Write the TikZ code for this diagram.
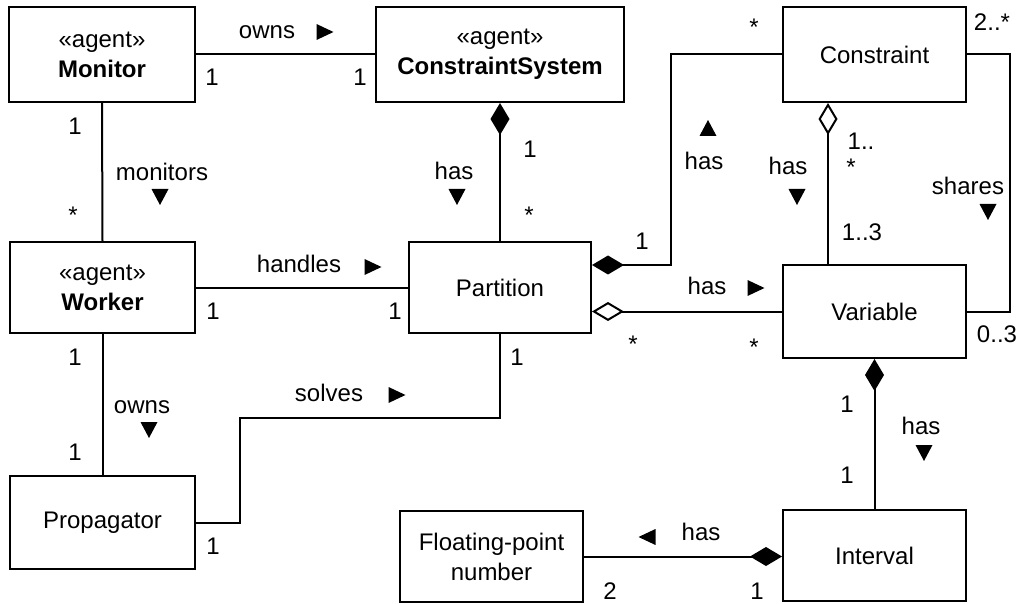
\documentclass[tikz,border=0pt]{standalone}
\usepackage{fontspec}
\setmainfont{Liberation Sans}
\usetikzlibrary{arrows.meta}
\begin{document}
\begin{tikzpicture}[x=1pt,y=-1pt,
  txt/.style={font=\fontsize{24}{30}\selectfont},
  box/.style={txt, draw, line width=2pt, minimum width=183pt, minimum height=93pt,
              inner sep=0pt, align=center},
  lbl/.style={txt, inner sep=0pt},
  link/.style={line width=2pt},
  comp/.style={-{Diamond[length=32pt,width=19pt]}},
  aggr/.style={-{Diamond[open,length=32pt,width=19pt]}},
  trir/.pic={\fill (-8.5,-8) -- (8.5,0) -- (-8.5,8) -- cycle;},
  tril/.pic={\fill (8.5,-8) -- (-8.5,0) -- (8.5,8) -- cycle;},
  trid/.pic={\fill (-8.5,-8) -- (8.5,-8) -- (0,8) -- cycle;},
  triu/.pic={\fill (-8.5,8) -- (8.5,8) -- (0,-8) -- cycle;}]
\useasboundingbox (0,0) rectangle (1031,604);

% classes
\node[box, minimum width=186pt, minimum height=95pt] (monitor) at (102,54.5) {«agent»\\\textbf{Monitor}};
\node[box, minimum width=248pt, minimum height=95pt] (csys) at (500,54.5) {«agent»\\\textbf{ConstraintSystem}};
\node[box, minimum height=95pt] (constraint) at (874.5,54.5) {Constraint};
\node[box, minimum width=185pt, minimum height=91pt] (worker) at (102.5,287.5) {«agent»\\\textbf{Worker}};
\node[box, minimum width=182pt, minimum height=91pt] (partition) at (500,287.5) {Partition};
\node[box] (variable) at (874.5,311.5) {Variable};
\node[box, minimum width=185pt] (propagator) at (102.5,522.5) {Propagator};
\node[box, minimum height=91pt] (fpn) at (491.5,556.5) {Floating-point\\number};
\node[box, minimum height=91pt] (interval) at (874.5,555.5) {Interval};

% bend points
\coordinate (solvesbend) at (240,418);
\coordinate (cpbend) at (671,265);
\coordinate (sharesbend) at (1010,54.5);

% associations
\draw[link] (monitor) -- (csys);
\draw[link] (monitor.south) -- (worker.north);
\draw[link] (worker) -- (partition);
\draw[link, comp] (partition.north) -- (csys.south);
\draw[link] (worker.south) -- (propagator.north);
\draw[link] (propagator.east) -| (solvesbend) -| (partition.south);
\draw[link, aggr] (variable.west) -- (variable.west -| partition.east);
\draw[link, comp] (constraint.west) -| (cpbend) -- (cpbend -| partition.east);
\draw[link, aggr] ([xshift=-46.5pt]variable.north) -- ([xshift=-46.5pt]constraint.south);
\draw[link] (constraint.east) -- (sharesbend) |- (variable.east);
\draw[link, comp] (interval.north) -- (variable.south);
\draw[link, comp] (fpn.east) -- (fpn.east -| interval.west);

% Monitor -- ConstraintSystem
\node[lbl] (l-owns1) at (267,32) {owns};
\pic at (325,32) {trir};
\node[lbl] (m-mon-cs) at (212,77) {1};
\node[lbl] (m-cs-mon) at (360,77) {1};

% Monitor -- Worker
\node[lbl] (m-mon-w) at (75,126) {1};
\node[lbl] (l-monitors) at (162,172) {monitors};
\pic at (160,197) {trid};
\node[lbl] (m-w-mon) at (73,215) {*};

% ConstraintSystem -- Partition
\node[lbl] (l-has1) at (454,171) {has};
\pic at (457,197) {trid};
\node[lbl] (m-cs-p) at (530,149) {1};
\node[lbl] (m-p-cs) at (529,215) {*};

% Worker -- Partition
\node[lbl] (l-handles) at (299,264) {handles};
\pic at (373,267) {trir};
\node[lbl] (m-w-p) at (213,311) {1};
\node[lbl] (m-p-w) at (395,311) {1};

% Worker -- Propagator
\node[lbl] (m-w-pr) at (75,357) {1};
\node[lbl] (l-owns2) at (142,407) {owns};
\pic at (149,430) {trid};
\node[lbl] (m-pr-w) at (75,452) {1};

% Propagator -- Partition
\node[lbl] (l-solves) at (329,393) {solves};
\pic at (397,395) {trir};
\node[lbl] (m-p-pr) at (517,357) {1};
\node[lbl] (m-pr-p) at (213,546) {1};

% Constraint -- Partition
\node[lbl] (m-c-p) at (754,27) {*};
\pic at (708,128) {triu};
\node[lbl] (l-has2) at (704,161) {has};
\node[lbl] (m-p-c) at (642,241) {1};

% Constraint -- Variable
\node[lbl] (l-has3) at (788,166) {has};
\pic at (797,197) {trid};
\node[lbl] (m-c-v1) at (861,141) {1..};
\node[lbl] (m-c-v2) at (851,167) {*};
\node[lbl] (m-v-c) at (862,232) {1..3};

% shares
\node[lbl] (m-shares1) at (992,22) {2..*};
\node[lbl] (l-shares) at (968,186) {shares};
\pic at (988,212) {trid};
\node[lbl] (m-shares2) at (997,334) {0..3};

% Partition -- Variable
\node[lbl] (l-has4) at (707,286) {has};
\pic at (756,288) {trir};
\node[lbl] (m-p-v) at (633,344) {*};
\node[lbl] (m-v-p) at (754,347) {*};

% Variable -- Interval
\node[lbl] (m-v-i) at (847,404) {1};
\node[lbl] (l-has5) at (921,426) {has};
\pic at (924,453) {trid};
\node[lbl] (m-i-v) at (847,475) {1};

% Interval -- Floating-point number
\pic at (647,537) {tril};
\node[lbl] (l-has6) at (701,532) {has};
\node[lbl] (m-f-i) at (610,591) {2};
\node[lbl] (m-i-f) at (757,591) {1};
\end{tikzpicture}
\end{document}
